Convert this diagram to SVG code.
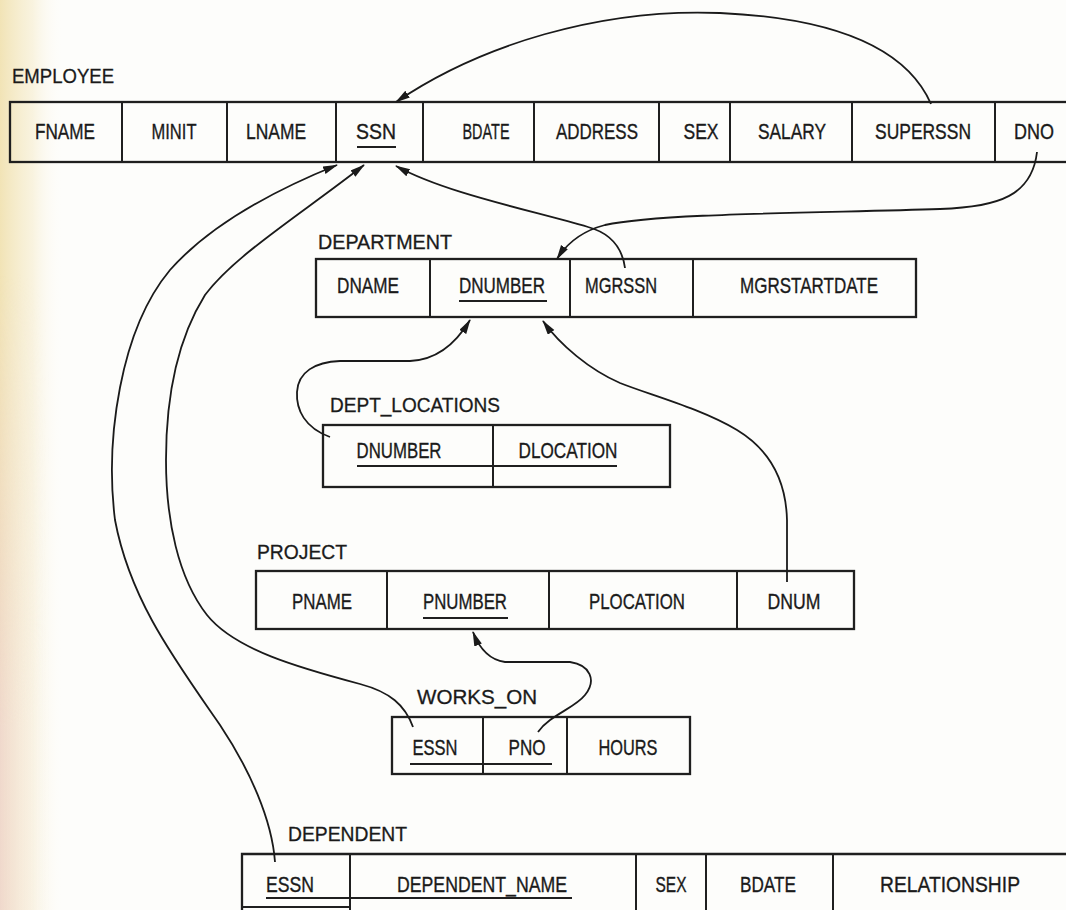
<svg xmlns="http://www.w3.org/2000/svg" width="1066" height="910" viewBox="0 0 1066 910">
<defs>
<linearGradient id="edge" x1="0" y1="0" x2="1" y2="0">
<stop offset="0" stop-color="#f1e2b2" stop-opacity="0.95"/>
<stop offset="0.5" stop-color="#f6eccc" stop-opacity="0.6"/>
<stop offset="1" stop-color="#ffffff" stop-opacity="0"/>
</linearGradient>
<linearGradient id="edgep" x1="0" y1="0" x2="1" y2="0">
<stop offset="0" stop-color="#efd6cf" stop-opacity="0.85"/>
<stop offset="1" stop-color="#ffffff" stop-opacity="0"/>
</linearGradient>
<linearGradient id="fadev" x1="0" y1="0" x2="0" y2="1">
<stop offset="0.3" stop-color="#000"/>
<stop offset="0.8" stop-color="#fff"/>
</linearGradient>
<mask id="mv" maskUnits="userSpaceOnUse" x="0" y="0" width="80" height="910">
<rect x="0" y="0" width="80" height="910" fill="url(#fadev)"/>
</mask>
<marker id="ah" markerWidth="15" markerHeight="9" refX="14" refY="4" orient="auto" markerUnits="userSpaceOnUse">
<path d="M0,0 L15,4 L0,8 z" fill="#1a1a1a"/>
</marker>
<style>
.box{fill:none;stroke:#1f1f1f;stroke-width:2.3}
.div{stroke:#1f1f1f;stroke-width:2}
.ul{stroke:#1f1f1f;stroke-width:1.8}
.t{font-family:"Liberation Sans",Arial,sans-serif;font-size:22px;fill:#1a1a1a;stroke:#1a1a1a;stroke-width:0.35;text-anchor:middle}
.lbl{font-family:"Liberation Sans",Arial,sans-serif;font-size:20px;fill:#1a1a1a;stroke:#1a1a1a;stroke-width:0.3}
.c{fill:none;stroke:#1a1a1a;stroke-width:1.8;marker-end:url(#ah)}
</style>
</defs>
<rect x="0" y="0" width="1066" height="910" fill="#fdfdfb"/>
<rect x="0" y="0" width="65" height="910" fill="url(#edge)"/>
<rect x="0" y="0" width="50" height="910" fill="url(#edgep)" mask="url(#mv)"/>

<g id="employee">
<text class="lbl" x="12" y="83" textLength="102" lengthAdjust="spacingAndGlyphs">EMPLOYEE</text>
<rect class="box" x="10" y="102" width="1070" height="60"/>
<line class="div" x1="122" y1="102" x2="122" y2="162"/>
<line class="div" x1="227" y1="102" x2="227" y2="162"/>
<line class="div" x1="336" y1="102" x2="336" y2="162"/>
<line class="div" x1="423" y1="102" x2="423" y2="162"/>
<line class="div" x1="534" y1="102" x2="534" y2="162"/>
<line class="div" x1="659" y1="102" x2="659" y2="162"/>
<line class="div" x1="730" y1="102" x2="730" y2="162"/>
<line class="div" x1="852" y1="102" x2="852" y2="162"/>
<line class="div" x1="995" y1="102" x2="995" y2="162"/>
<text class="t" x="65" y="139" textLength="60" lengthAdjust="spacingAndGlyphs">FNAME</text>
<text class="t" x="174" y="139" textLength="45" lengthAdjust="spacingAndGlyphs">MINIT</text>
<text class="t" x="276" y="139" textLength="60" lengthAdjust="spacingAndGlyphs">LNAME</text>
<text class="t" x="376" y="139" textLength="40" lengthAdjust="spacingAndGlyphs">SSN</text>
<text class="t" x="486" y="139" textLength="47" lengthAdjust="spacingAndGlyphs">BDATE</text>
<text class="t" x="597" y="139" textLength="82" lengthAdjust="spacingAndGlyphs">ADDRESS</text>
<text class="t" x="701" y="139" textLength="35" lengthAdjust="spacingAndGlyphs">SEX</text>
<text class="t" x="792" y="139" textLength="68" lengthAdjust="spacingAndGlyphs">SALARY</text>
<text class="t" x="923" y="139" textLength="96" lengthAdjust="spacingAndGlyphs">SUPERSSN</text>
<text class="t" x="1034" y="139" textLength="40" lengthAdjust="spacingAndGlyphs">DNO</text>
<line class="ul" x1="357" y1="147" x2="396" y2="147"/>
</g>

<g id="department">
<text class="lbl" x="318" y="249" textLength="134" lengthAdjust="spacingAndGlyphs">DEPARTMENT</text>
<rect class="box" x="316" y="259" width="600" height="58"/>
<line class="div" x1="430" y1="259" x2="430" y2="317"/>
<line class="div" x1="570" y1="259" x2="570" y2="317"/>
<line class="div" x1="693" y1="259" x2="693" y2="317"/>
<text class="t" x="368" y="293" textLength="62" lengthAdjust="spacingAndGlyphs">DNAME</text>
<text class="t" x="502" y="293" textLength="86" lengthAdjust="spacingAndGlyphs">DNUMBER</text>
<text class="t" x="621" y="293" textLength="72" lengthAdjust="spacingAndGlyphs">MGRSSN</text>
<text class="t" x="809" y="293" textLength="138" lengthAdjust="spacingAndGlyphs">MGRSTARTDATE</text>
<line class="ul" x1="459" y1="301" x2="547" y2="301"/>
</g>

<g id="dept_locations">
<text class="lbl" x="330" y="412" textLength="170" lengthAdjust="spacingAndGlyphs">DEPT_LOCATIONS</text>
<rect class="box" x="323" y="425" width="347" height="62"/>
<line class="div" x1="493" y1="425" x2="493" y2="487"/>
<text class="t" x="399" y="458" textLength="85" lengthAdjust="spacingAndGlyphs">DNUMBER</text>
<text class="t" x="568" y="458" textLength="99" lengthAdjust="spacingAndGlyphs">DLOCATION</text>
<line class="ul" x1="357" y1="466" x2="617" y2="466"/>
</g>

<g id="project">
<text class="lbl" x="257" y="559" textLength="90" lengthAdjust="spacingAndGlyphs">PROJECT</text>
<rect class="box" x="256" y="571" width="598" height="58"/>
<line class="div" x1="387" y1="571" x2="387" y2="629"/>
<line class="div" x1="549" y1="571" x2="549" y2="629"/>
<line class="div" x1="737" y1="571" x2="737" y2="629"/>
<text class="t" x="322" y="609" textLength="60" lengthAdjust="spacingAndGlyphs">PNAME</text>
<text class="t" x="465" y="609" textLength="84" lengthAdjust="spacingAndGlyphs">PNUMBER</text>
<text class="t" x="637" y="609" textLength="96" lengthAdjust="spacingAndGlyphs">PLOCATION</text>
<text class="t" x="794" y="609" textLength="53" lengthAdjust="spacingAndGlyphs">DNUM</text>
<line class="ul" x1="423" y1="618" x2="508" y2="618"/>
</g>

<g id="works_on">
<text class="lbl" x="417" y="704" textLength="120" lengthAdjust="spacingAndGlyphs">WORKS_ON</text>
<rect class="box" x="392" y="717" width="298" height="57"/>
<line class="div" x1="483" y1="717" x2="483" y2="774"/>
<line class="div" x1="567" y1="717" x2="567" y2="774"/>
<text class="t" x="435" y="755" textLength="45" lengthAdjust="spacingAndGlyphs">ESSN</text>
<text class="t" x="527" y="755" textLength="37" lengthAdjust="spacingAndGlyphs">PNO</text>
<text class="t" x="628" y="755" textLength="59" lengthAdjust="spacingAndGlyphs">HOURS</text>
<line class="ul" x1="410" y1="764" x2="552" y2="764"/>
</g>

<g id="dependent">
<text class="lbl" x="288" y="841" textLength="119" lengthAdjust="spacingAndGlyphs">DEPENDENT</text>
<path class="box" d="M242,915 L242,854 L1070,854"/>
<line class="div" x1="242" y1="907" x2="350" y2="907"/>
<line class="div" x1="350" y1="854" x2="350" y2="910"/>
<line class="div" x1="636" y1="854" x2="636" y2="910"/>
<line class="div" x1="706" y1="854" x2="706" y2="910"/>
<line class="div" x1="833" y1="854" x2="833" y2="910"/>
<text class="t" x="290" y="892" textLength="48" lengthAdjust="spacingAndGlyphs">ESSN</text>
<text class="t" x="482" y="892" textLength="170" lengthAdjust="spacingAndGlyphs">DEPENDENT_NAME</text>
<text class="t" x="671" y="892" textLength="31" lengthAdjust="spacingAndGlyphs">SEX</text>
<text class="t" x="768" y="892" textLength="56" lengthAdjust="spacingAndGlyphs">BDATE</text>
<text class="t" x="950" y="892" textLength="140" lengthAdjust="spacingAndGlyphs">RELATIONSHIP</text>
<line class="ul" x1="266" y1="898" x2="572" y2="898"/>
</g>

<g id="connectors">
<path class="c" d="M931,104 C905,45 830,18 720,13 C600,8 480,45 396,102"/>
<path class="c" d="M1037,152 C1032,195 1000,207 940,209 C820,213 660,213 605,225 C582,231 567,243 557,259"/>
<path class="c" d="M625,268 C622,246 610,233 588,227 C530,210 445,193 396,166"/>
<path class="c" d="M330,437 C305,428 296,410 297,392 C298,372 315,362 340,361 L410,361 C435,360 455,345 470,320"/>
<path class="c" d="M787,582 L787,520 C786,480 770,450 737,430 C700,408 650,395 620,383 C590,370 560,345 543,321"/>
<path class="c" d="M413,727 C405,705 390,692 360,684 C300,668 235,650 207,615 C178,578 166,520 166,460 C166,390 180,335 205,295 C235,255 300,215 364,165"/>
<path class="c" d="M538,732 C550,715 575,708 585,695 C597,680 590,665 570,662 L505,662 C490,660 480,650 473,632"/>
<path class="c" d="M275,862 C272,820 250,770 220,725 C175,660 130,600 115,520 C105,440 120,330 170,270 C210,225 275,190 337,165"/>
</g>
</svg>
